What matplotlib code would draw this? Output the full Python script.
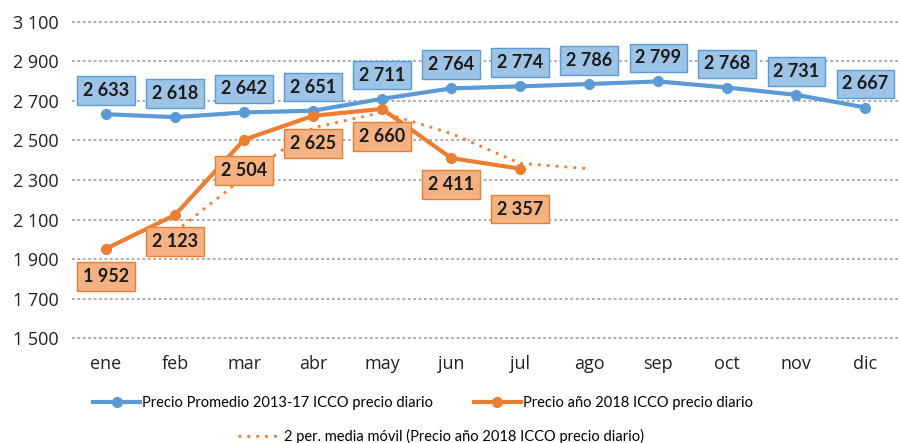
import matplotlib.pyplot as plt
import matplotlib.font_manager as fm
import numpy as np

meses = ["ene", "feb", "mar", "abr", "may", "jun", "jul", "ago", "sep", "oct", "nov", "dic"]
promedio = [2633, 2618, 2642, 2651, 2711, 2764, 2774, 2786, 2799, 2768, 2731, 2667]
precio_2018 = [1952, 2123, 2504, 2625, 2660, 2411, 2357]
media_movil = [np.nan, 2037.5, 2313.5, 2564.5, 2642.5, 2535.5, 2384, 2357]

lbl_promedio = "Precio Promedio 2013-17 ICCO precio diario"
lbl_2018 = "Precio año 2018 ICCO precio diario"
lbl_mm = "2 per. media móvil (Precio año 2018 ICCO precio diario)"

azul = "#5b9bd5"
naranja = "#ed7d31"

names = {f.name for f in fm.fontManager.ttflist}
font_tick = "Open Sans" if "Open Sans" in names else "DejaVu Sans"
font_lbl = "Lato" if "Lato" in names else "DejaVu Sans"

def fmt(v):
    return f"{v:,.0f}".replace(",", " ")

fig = plt.figure(figsize=(9, 4.43), dpi=100)
ax = fig.add_axes([71.5 / 900, (443 - 340) / 443, 1 - 71.5 / 900, 320 / 443])

x = np.arange(len(meses))
ax.plot(x, promedio, color=azul, lw=3, marker="o", ms=7, label=lbl_promedio, zorder=3)
ax.plot(x[:len(precio_2018)], precio_2018, color=naranja, lw=3, marker="o", ms=7,
        label=lbl_2018, zorder=3)
ax.plot(x[:len(media_movil)], media_movil, color=naranja, lw=2, ls=(0, (1, 2.2)),
        label=lbl_mm, zorder=2)

for i, v in enumerate(promedio):
    ax.annotate(fmt(v), (x[i], v), xytext=(0, 17), textcoords="offset points",
                ha="center", va="center", fontsize=13, fontweight="bold",
                family=font_lbl, color="#1a1a1a", zorder=4,
                bbox=dict(boxstyle="square,pad=0.32", fc="#9dc3e6", ec=azul, lw=1))

off_2018 = [-20, -19, -22, -20, -20, -19, -29]
for i, v in enumerate(precio_2018):
    ax.annotate(fmt(v), (x[i], v), xytext=(0, off_2018[i]), textcoords="offset points",
                ha="center", va="center", fontsize=13, fontweight="bold",
                family=font_lbl, color="#1a1a1a", zorder=4,
                bbox=dict(boxstyle="square,pad=0.32", fc="#f4b183", ec=naranja, lw=1))

ax.set_xlim(-0.5, 11.5)
ax.set_ylim(1490, 3110)
yt = np.arange(1500, 3101, 200)
ax.set_yticks(yt)
ax.set_yticklabels([fmt(v) for v in yt], family=font_tick, fontsize=13, color="#222222")
ax.set_xticks(x)
ax.set_xticklabels(meses, family=font_tick, fontsize=13, color="#222222")
ax.tick_params(length=0)
ax.tick_params(axis="y", pad=9)
ax.tick_params(axis="x", pad=11)
ax.yaxis.grid(True, color="#a6a6a6", ls=(0, (1.5, 1.5)), lw=1.3)
ax.set_axisbelow(True)
for s in ax.spines.values():
    s.set_visible(False)

h, l = ax.get_legend_handles_labels()
fig.legend(h[:2], l[:2], loc="center", bbox_to_anchor=(0.47, 0.09), ncol=2,
           frameon=False, prop={"family": font_lbl, "size": 10.5},
           handlelength=3.2, columnspacing=2.8, handletextpad=0.15)
fig.legend(h[2:], l[2:], loc="center", bbox_to_anchor=(0.49, 0.015),
           frameon=False, prop={"family": font_lbl, "size": 10.5},
           handlelength=3, handletextpad=0.2)

fig.savefig("out.png", dpi=100)
